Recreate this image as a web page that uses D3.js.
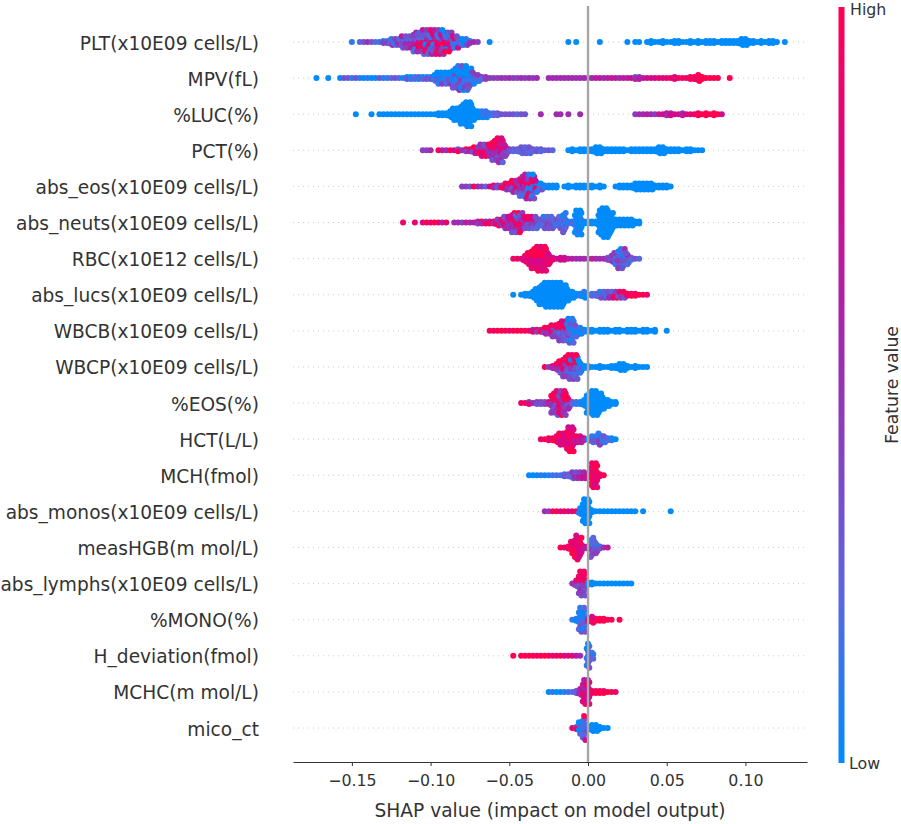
<!DOCTYPE html>
<html>
<head>
<meta charset="utf-8">
<script src="https://cdn.jsdelivr.net/npm/d3@7"></script>
<style>
html,body{margin:0;padding:0;background:#fff;}
svg{display:block;font-family:"DejaVu Sans",sans-serif;}
</style>
</head>
<body>
<svg id="chart" width="901" height="824"></svg>
<script>
// Feature names, top to bottom
const features = ["PLT(x10E09 cells/L)","MPV(fL)","%LUC(%)","PCT(%)","abs_eos(x10E09 cells/L)","abs_neuts(x10E09 cells/L)","RBC(x10E12 cells/L)","abs_lucs(x10E09 cells/L)","WBCB(x10E09 cells/L)","WBCP(x10E09 cells/L)","%EOS(%)","HCT(L/L)","MCH(fmol)","abs_monos(x10E09 cells/L)","measHGB(m mol/L)","abs_lymphs(x10E09 cells/L)","%MONO(%)","H_deviation(fmol)","MCHC(m mol/L)","mico_ct"];
// SHAP value of the first bin of every feature
const starts = [-0.15,-0.1725,-0.1475,-0.105,-0.08,-0.1175,-0.0475,-0.0475,-0.0625,-0.0275,-0.0425,-0.03,-0.0375,-0.0275,-0.0175,-0.01,-0.01,-0.0475,-0.025,-0.01];
const binWidth = 0.0025;
const xTicks = [-0.15,-0.10,-0.05,0,0.05,0.10];
// One string per SHAP bin; one digit per point: its feature value, 0 (low) to 9 (high)
const plt = ["1","","2","3","5","3","2","1","414","324","24215","35142","43524","5231463","3251634","4152436","526374152","748263915","85927391462","97058361942","48917205386","79152849367","95827163948","28951736405","849271039","927381649","5027381","4812037","48201","82014","815","5","4","","","0","","","","","","","","","","","","","","","","","","","","0","","0","","","","","","0","","","","","","","0","","0","0","","0","000","0","0","000","0","0","000","000","0","0","000","0","000","0","000","000","000","0","000","000","000","000","000","00000","00000","000","000","0","000","0","000","000","0","","0"];
const mpv = ["0","","","0","","","0","3","3","1","3","1","0","1","0","0","3","1","1","2","3","2","0","103","201","012","031","102","203","013","30102","1030201","0301204","0410302","2030104","300410203","03102040315","10403021030","40102030401","301020403","2013040","30241","342","344","4","4","4","5","4","5","4","4","5","4","5","4","5","","","5","5","5","5","5","5","5","5","5","5","5","5","6","6","5","6","6","6","5","6","6","7","535","646","6","7","7","7","8","7","8","8","878","8","9","8","989","998","99899","999","9","9","9","9","","","9"];
const luc = ["0","","","","0","","0","0","0","0","0","0","0","0","0","0","0","0","0","0","0","000","000","000","00000","0000000","0000000","000000000","00000000000","00000000000","0000000","00000","01010","01210","121","212","232","3","3","3","3","2","3","3","","","","5","","","","5","5","","5","","","5","","","","","","","","","","","","","","4","5","5","6","5","4","6","7","575","657","7","7","646","7","8","8","989","9","999","9","999","9","7"];
const pct = ["4","4","5","","9","6","5","9","7","929","5","494","696","58395","93749","5394857","9584739","4857395","795849583","96574938495","59783649572","5647364","343","232","232","23232","32323","23232","232","323","232","2","3","2","","","","0","000","0","000","000","000","000","00000","00000","000","000","000","000","000","000","0","000","000","000","000","000","000","000","00000","00000","000","000","000","000","0","000","000","0","0","0"];
const absEos = ["4","4","3","9","5","4","2","8","585","343","939","53895","49584","5938495","9584753","375948352","29584738165","38190472915","30192847103","2180371","10203","101","010","000","000","","0","000","0","000","000","000","000","000","0","000","0","","","0","000","000","000","000","00000","00000","00000","00000","00000","000","000","000","000","0"];
const absNeuts = ["8","","","8","","7","9","8","9","8","6","8","","5","5","4","6","5","6","464","595","848","969","585","75849","39584","9584735","4958375","495837593","958371593","749583649","3958473","5938493","3948372","2343132","43231","3423213","2343123","3132423","23132","3212323","321230213","201","112","00100010000","00010000100","000","000","000","000","00000000000","0000000000000","0000000000000","000000000","00000","00000","00000","00000","00000","000","000"];
const rbc = ["8","9","7","98789","9879798","897989798","98798979899","89798979878","98797989798","8787978","878","7","777","767","6","6","5","5","5","5","6","5","5","5","434","52345","4132541","314251304","513042153","2435132","232","3","2"];
const absLucs = ["0","","0","000","000","00000","0000000","000000000","00000000000","00000000000","00000000000","00000000000","00000000000","000000000","0000000","00000","000","101","01010","0","212","222","31213","42324","53135","62526","93849","49384","39493","898","989","999","9","9","8"];
const wbcb = ["9","8","9","9","9","8","9","9","9","9","8","858","494","959","58495","39584","9483594","4839284","392819374","283918273","21302141203","10210321012","2101032","01010","101","000","000","0","000","000","000","0","000","000","0","000","000","000","0","000","000","0","000","","","0"];
const wbcp = ["9","4","595","49584","3958493","938459384","49382918493","38495019384","20394810293","1020301","010","000","0","0","000","0","0","000","000","00000","00000","000","0","000","0","0","0"];
const pctEos = ["8","9","848","5","343","343","434","585","395849384","59384959483","94857395849","48593849584","5938495","232","121","101","01001","000000000","00000000000","00000000000","000000000","0000000","00000","000","000"];
const hct = ["8","9","898","989","98989","9879897","8978978","98798979879","79879878979","78697","67676","575","0","21312","20312","3142314","23131","212","101","0"];
const mch = ["0","0","0","1","0","1","1","2","1","323","232","34243","43534","54645","65756","787","98979898989","97898989798","998","9"];
const absMonos = ["5","4","8","9","7","9","7","8","8","54100","00000000000","00000000000","000","0","0","0","0","0","0","0","0","0","0","0","","0","","","","","","","0"];
const measHgb = ["9","8","898","9897989","98979898979","787978797","676","565","314231423","4231324","313","5","6"];
const absLymphs = ["5","39483","48394859493","38494839483","000","000","0","0","0","0","0","0","0","0","0","0"];
const pctMono = ["1","010","02102130213","10213021023","657","86978","989","999","999","9","9","","9"];
const hDeviation = ["9","","9","9","9","9","8","9","9","9","8","8","9","7","8","7","6","5","","20132032103","21312"];
const mchc = ["0","1","0","0","1","1","2","232","46564","76857687768","86767868768","898","989","999","989","9","9","8"];
const micoCt = ["7","929","3202302","12123123297","003","00000","00000","000","0","0"];

const rows = [plt,mpv,luc,pct,absEos,absNeuts,rbc,absLucs,wbcb,wbcp,pctEos,hct,mch,absMonos,measHgb,absLymphs,pctMono,hDeviation,mchc,micoCt];

const svg = d3.select("#chart");
const x = d3.scaleLinear().domain([-0.1874,0.1391]).range([293,807]);
const y = d3.scalePoint().domain(features).range([42,728]);
const color = d3.scaleLinear()
  .domain([0,2,4,5,7,9])
  .range(["#008bfb","#5a66e0","#8a3dbc","#a02ab0","#d30a8a","#ff0051"]);

const INK = "#333333";
// vertical spacing of a stack, by number of points in the bin (1,3,5,7,9,11,13)
const stackSteps = [0,1,1.5,1.9,2.4,2.4,2.4];
const stagger = [0,1.3,-1.3];

// dotted row guides
svg.append("g").selectAll("line").data(features).join("line")
  .attr("x1",293).attr("x2",807)
  .attr("y1",d=>y(d)).attr("y2",d=>y(d))
  .attr("stroke","#cccccc").attr("stroke-width",1).attr("stroke-dasharray","1 4");

// beeswarm points
const points = [];
rows.forEach((bins,r)=>{
  bins.forEach((codes,b)=>{
    const n = codes.length;
    const step = stackSteps[Math.min(6,Math.floor(n/2))];
    [...codes].forEach((code,k)=>{
      const side = k===0 ? 0 : (k%2===1 ? -1 : 1);
      points.push({row:features[r],shap:starts[r]+b*binWidth,offset:side*Math.ceil(k/2)*step,shift:n>=5?stagger[k%3]:0,value:+code});
    });
  });
});
svg.append("g").selectAll("circle").data(points).join("circle")
  .attr("cx",d=>x(d.shap)+d.shift).attr("cy",d=>y(d.row)+d.offset)
  .attr("r",3).attr("fill",d=>color(d.value));

// zero line, over the points
svg.append("line").attr("x1",x(0)).attr("x2",x(0)).attr("y1",6).attr("y2",762)
  .attr("stroke","#a6a6a6").attr("stroke-width",2.4);

// feature labels
svg.append("g").selectAll("text").data(features).join("text")
  .attr("x",259).attr("y",d=>y(d)+1).attr("dy","0.35em").attr("text-anchor","end")
  .attr("font-size",18.6).attr("fill",INK).text(d=>d);

// x axis
const axis = svg.append("g").attr("transform","translate(0,762)")
  .call(d3.axisBottom(x).tickValues(xTicks).tickFormat(d3.format(".2f")).tickSize(4).tickSizeOuter(0));
axis.select(".domain").attr("stroke",INK).attr("stroke-width",1.1);
axis.selectAll(".tick line").attr("stroke",INK).attr("stroke-width",1);
axis.selectAll(".tick text").attr("font-family","DejaVu Sans").attr("font-size",15.8).attr("fill",INK).attr("dy","1.05em");
svg.append("text").attr("x",550).attr("y",817).attr("text-anchor","middle")
  .attr("font-size",18.6).attr("fill",INK).text("SHAP value (impact on model output)");

// colour bar
const defs = svg.append("defs");
const grad = defs.append("linearGradient").attr("id","cb").attr("x1",0).attr("x2",0).attr("y1",1).attr("y2",0);
d3.range(0,10).forEach(v=>grad.append("stop").attr("offset",v/9).attr("stop-color",color(v)));
svg.append("rect").attr("x",838.5).attr("y",7).attr("width",6).attr("height",756).attr("fill","url(#cb)");
svg.append("text").attr("x",850).attr("y",15).attr("font-size",15.8).attr("fill",INK).text("High");
svg.append("text").attr("x",849).attr("y",769).attr("font-size",15.8).attr("fill",INK).text("Low");
svg.append("text").attr("transform","translate(898,385) rotate(-90)").attr("text-anchor","middle")
  .attr("font-size",17.3).attr("fill",INK).text("Feature value");
</script>
</body>
</html>
